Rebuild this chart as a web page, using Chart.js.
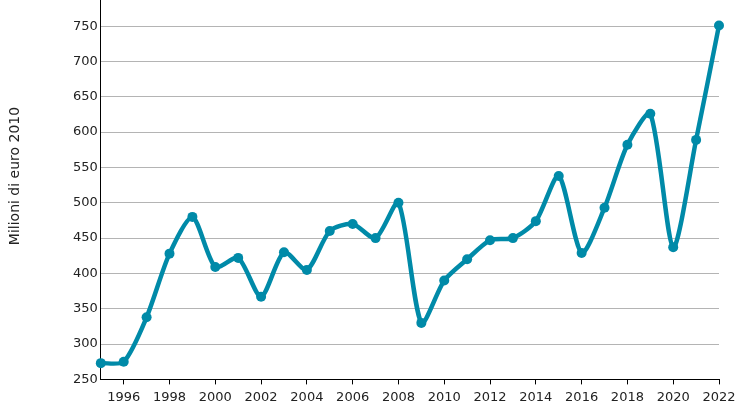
<!DOCTYPE html>
<html>
<head>
<meta charset="utf-8">
<script src="https://cdn.jsdelivr.net/npm/chart.js@4"></script>
<style>
  html, body { margin: 0; padding: 0; background: #fff; }
  #wrap { width: 748px; height: 411px; }
</style>
</head>
<body>
<div id="wrap"><canvas id="chart" width="748" height="411"></canvas></div>
<script>
const years = [1995, 1996, 1997, 1998, 1999, 2000, 2001, 2002, 2003, 2004, 2005, 2006, 2007, 2008,
               2009, 2010, 2011, 2012, 2013, 2014, 2015, 2016, 2017, 2018, 2019, 2020, 2021, 2022];
const values = [273, 275, 338, 428, 480, 409, 422, 367, 430, 405, 460, 470, 450, 500,
                330, 390, 420, 447, 450, 474, 538, 429, 493, 582, 626, 437, 589, 751];
const yTicks = [250, 300, 350, 400, 450, 500, 550, 600, 650, 700, 750];
const xTicks = [1996, 1998, 2000, 2002, 2004, 2006, 2008, 2010, 2012, 2014, 2016, 2018, 2020, 2022];
const yTitle = 'Milioni di euro 2010';

const colour = '#008aa8';
const font = { family: 'DejaVu Sans', size: 13 };

// y title sits a bit above the plot centre in the original, so draw it by hand
const yTitlePlugin = {
  id: 'yTitle',
  afterDraw(chart) {
    const c = chart.ctx;
    c.save();
    c.translate(15, 176);
    c.rotate(-Math.PI / 2);
    c.font = '14px "DejaVu Sans"';
    c.fillStyle = '#222';
    c.textAlign = 'center';
    c.textBaseline = 'middle';
    c.fillText(yTitle, 0, 0);
    c.restore();
  }
};

const ctx = document.getElementById('chart').getContext('2d');
new Chart(ctx, {
  type: 'line',
  data: {
    datasets: [{
      data: years.map((y, i) => ({ x: y, y: values[i] })),
      borderColor: colour,
      backgroundColor: colour,
      pointBackgroundColor: colour,
      pointBorderColor: colour,
      borderWidth: 4.5,
      pointBorderWidth: 0,
      pointRadius: 5,
      tension: 0.25,
      fill: false,
      clip: false
    }]
  },
  options: {
    responsive: false,
    animation: false,
    layout: { autoPadding: false, padding: { top: 0, right: 29, bottom: 1, left: 70 } },
    plugins: { legend: { display: false }, tooltip: { enabled: false } },
    scales: {
      x: {
        type: 'linear',
        min: 1995,
        max: 2022,
        afterBuildTicks: axis => { axis.ticks = xTicks.map(v => ({ value: v })); },
        ticks: { color: '#222', font: font, maxRotation: 0, padding: 5, callback: v => String(v) },
        grid: { drawOnChartArea: false, color: '#000', tickLength: 5 },
        border: { color: '#000', width: 1 }
      },
      y: {
        min: 250,
        max: 787,
        afterBuildTicks: axis => { axis.ticks = yTicks.map(v => ({ value: v })); },
        afterFit: axis => { axis.paddingTop = 0; },
        ticks: { color: '#222', font: font, padding: 3 },
        grid: { color: '#b4b4b4', drawTicks: false },
        border: { color: '#000', width: 1 }
      }
    }
  },
  plugins: [yTitlePlugin]
});
</script>
</body>
</html>
